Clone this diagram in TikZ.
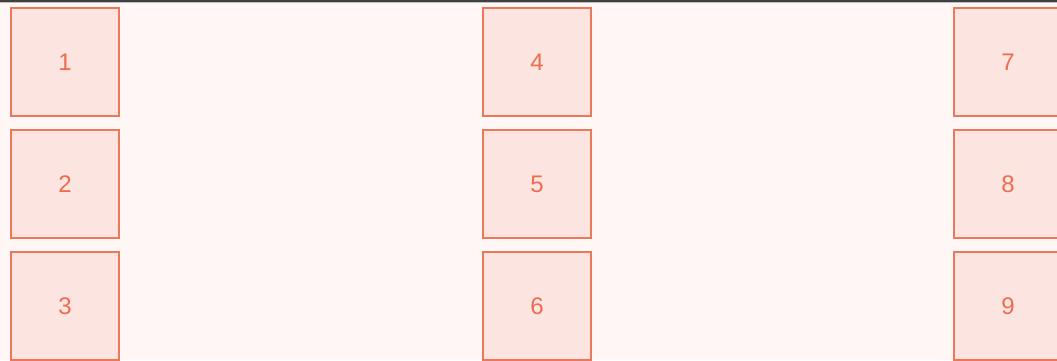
\documentclass[tikz,border=0pt]{standalone}
\usepackage{fontspec}
\setmainfont{Liberation Sans}
\usetikzlibrary{positioning}

\definecolor{pagebg}{HTML}{FFF7F5}
\definecolor{cellfill}{HTML}{FCE5E1}
\definecolor{celledge}{HTML}{EE7659}
\definecolor{celltext}{HTML}{EE6C4E}

\tikzset{
  cell/.style={draw=celledge, fill=cellfill, line width=2.4pt, minimum size=107.6pt,
    inner sep=0pt, text=celltext, font=\fontsize{24}{28}\selectfont}
}

\begin{document}
\begin{tikzpicture}[x=1pt, y=-1pt]
    % page frame
    \useasboundingbox (0,0) rectangle (1057,360);
    \clip (0,0) rectangle (1057,360);
    \fill[pagebg] (0,0) rectangle (1057,360);
    \fill[black!75] (0,0) rectangle (1057,1.5);
    \fill[black!25] (0,1.5) rectangle (1057,3);

    % three columns of three cells
    \foreach \col/\x in {0/65, 1/537, 2/1008} {
      \foreach \row/\y in {1/62, 2/184, 3/306} {
        \pgfmathtruncatemacro{\num}{3*\col+\row}
        \node[cell] (b\num) at (\x,\y) {\num};
      }
    }
\end{tikzpicture}
\end{document}
